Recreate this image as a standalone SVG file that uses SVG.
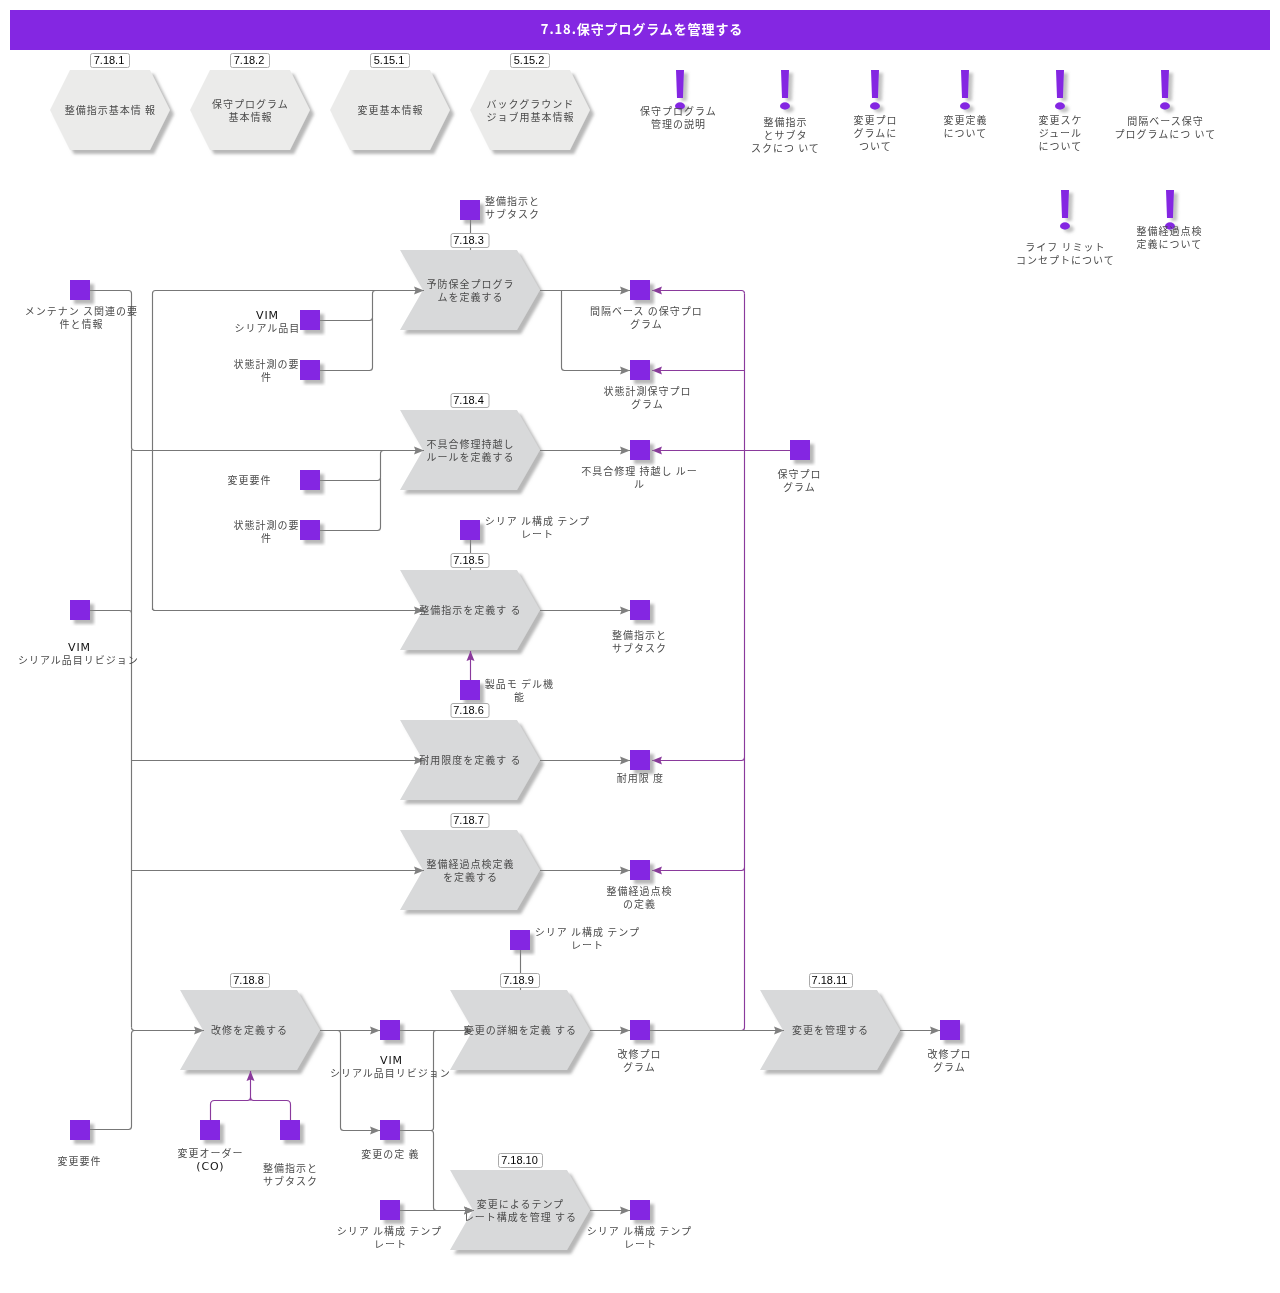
<svg xmlns="http://www.w3.org/2000/svg" width="1280" height="1293" viewBox="0 0 1280 1293">
<style>
text{font-family:"Noto Sans CJK JP","Liberation Sans",sans-serif;font-size:10px;letter-spacing:1px;fill:#4a4a4a;text-anchor:middle;opacity:.999}
.lat{font-family:"DejaVu Sans",sans-serif;font-size:11px;letter-spacing:.8px;fill:#111}
.id{font-family:"Liberation Sans",sans-serif;font-size:11px;letter-spacing:0;fill:#000}
.title{font-size:13px;font-weight:700;fill:#fff;letter-spacing:.9px}
.box{fill:#8427e2;filter:url(#sh)}
.hex{fill:#ebebea;filter:url(#sh)}
.chev{fill:#d8d9da;filter:url(#sh)}
.tag{fill:#fff;stroke:#aaa;stroke-width:1}
.g,.p{fill:none;stroke-width:1.15}
.g{stroke:#777}
.p{stroke:#8a3a9c}
.ga{marker-end:url(#ag)}
.pa{marker-end:url(#ap)}
.ex{fill:#8427e2;filter:url(#shx)}
</style>
<defs>
<filter id="sh" x="-20%" y="-20%" width="150%" height="150%"><feDropShadow dx="4" dy="4" stdDeviation="1.5" flood-color="#888" flood-opacity=".6"/></filter>
<filter id="shx" x="-100%" y="-20%" width="300%" height="150%"><feDropShadow dx="4" dy="3" stdDeviation="1.5" flood-color="#888" flood-opacity=".5"/></filter>
<marker id="ag" markerUnits="userSpaceOnUse" markerWidth="11" markerHeight="9" refX="10" refY="4.500" orient="auto"><path d="M0 .5L10 4.500L0 8.500L1.500 4.500Z" fill="#808080"/></marker>
<marker id="ap" markerUnits="userSpaceOnUse" markerWidth="11" markerHeight="9" refX="10" refY="4.500" orient="auto"><path d="M0 .5L10 4.500L0 8.500L1.500 4.500Z" fill="#8a3a9c"/></marker>
<path id="excl" d="M-4 0H4L3 28H-3Z M5 36A5 3.700 0 1 1-5 36A5 3.700 0 1 1 5 36Z"/>
</defs>
<rect id="title-bar" x="10" y="10" width="1260" height="40" fill="#8427e2"/>
<text class="title" x="642" y="34">7.18.保守プログラムを管理する</text>

<g id="shapes">
<g id="n-7-18-1"><path class="hex" d="M50 110L70 70H150L170 110L150 150H70Z"/><rect class="tag" x="90.500" y="53.500" width="39" height="14" rx="2"/><text class="id" x="109" y="64">7.18.1</text><text x="110.400" y="114">整備指示基本情 報</text></g>
<g id="n-7-18-2"><path class="hex" d="M190 110L210 70H290L310 110L290 150H210Z"/><rect class="tag" x="230.500" y="53.500" width="39" height="14" rx="2"/><text class="id" x="249" y="64">7.18.2</text><text x="250.400" y="108">保守プログラム</text><text x="250.400" y="121">基本情報</text></g>
<g id="n-5-15-1"><path class="hex" d="M330 110L350 70H430L450 110L430 150H350Z"/><rect class="tag" x="370.500" y="53.500" width="39" height="14" rx="2"/><text class="id" x="389" y="64">5.15.1</text><text x="390.400" y="114">変更基本情報</text></g>
<g id="n-5-15-2"><path class="hex" d="M470 110L490 70H570L590 110L570 150H490Z"/><rect class="tag" x="510.500" y="53.500" width="39" height="14" rx="2"/><text class="id" x="529" y="64">5.15.2</text><text x="530.400" y="108">バックグラウンド</text><text x="530.400" y="121">ジョブ用基本情報</text></g>

<g id="n-7-18-3"><path class="chev" d="M400 250H517L540 290L517 330H400L423 290Z"/></g>
<g id="n-7-18-4"><path class="chev" d="M400 410H517L540 450L517 490H400L423 450Z"/></g>
<g id="n-7-18-5"><path class="chev" d="M400 570H517L540 610L517 650H400L423 610Z"/></g>
<g id="n-7-18-6"><path class="chev" d="M400 720H517L540 760L517 800H400L423 760Z"/></g>
<g id="n-7-18-7"><path class="chev" d="M400 830H517L540 870L517 910H400L423 870Z"/></g>
<g id="n-7-18-8"><path class="chev" d="M180 990H297L320 1030L297 1070H180L203 1030Z"/></g>
<g id="n-7-18-9"><path class="chev" d="M450 990H567L590 1030L567 1070H450L473 1030Z"/></g>
<g id="n-7-18-10"><path class="chev" d="M450 1170H567L590 1210L567 1250H450L473 1210Z"/></g>
<g id="n-7-18-11"><path class="chev" d="M760 990H877L900 1030L877 1070H760L783 1030Z"/></g>
</g>

<g id="connectors">
<path class="g ga" d="M90 290.500H128.500Q131.500 290.500 131.500 293.500V447.500Q131.500 450.500 134.500 450.500H424"/>
<path class="g" d="M90 610.500H129Q131.500 610.500 131.500 613"/>
<path class="g" d="M131.500 450V1027.500"/>
<path class="g ga" d="M131.500 760.500H424"/>
<path class="g ga" d="M131.500 870.500H424"/>
<path class="g ga" d="M131.500 1027.500Q131.500 1030.500 134.500 1030.500H204"/>
<path class="g" d="M90 1129.500H128.500Q131.500 1129.500 131.500 1126.500V1033.500Q131.500 1030.500 134.500 1030.500"/>
<path class="g ga" d="M152.500 610V293.500Q152.500 290.500 155.500 290.500H424"/>
<path class="g ga" d="M152.500 608Q152.500 610.500 155 610.500H424"/>
<path class="g" d="M320 320.500H369.500Q372.500 320.500 372.500 317.500V293.500Q372.500 290.500 375.500 290.500"/>
<path class="g" d="M320 370.500H369.500Q372.500 370.500 372.500 367.500V318"/>
<path class="g" d="M320 480.500H377.500Q380.500 480.500 380.500 477.500V453.500Q380.500 450.500 383.500 450.500"/>
<path class="g" d="M320 530.500H377.500Q380.500 530.500 380.500 527.500V478"/>
<path class="g ga" d="M540 290.500H630"/>
<path class="g ga" d="M561.500 290.500V367.500Q561.500 370.500 564.500 370.500H630"/>
<path class="g ga" d="M540 450.500H630"/>
<path class="g ga" d="M540 610.500H630"/>
<path class="g ga" d="M540 760.500H630"/>
<path class="g ga" d="M540 870.500H630"/>
<path class="g" d="M470.500 220V250"/>
<path class="g" d="M470.500 540V570"/>
<path class="g" d="M520.500 950V990"/>
<path class="g ga" d="M320 1030.500H380"/>
<path class="g ga" d="M337.500 1030.500Q340.500 1030.500 340.500 1033.500V1127.500Q340.500 1130.500 343.500 1130.500H380"/>
<path class="g ga" d="M400 1030.500H474"/>
<path class="g" d="M436 1030.500Q433.500 1030.500 433.500 1033V1128Q433.500 1130.500 431 1130.500"/>
<path class="g ga" d="M400 1130.500H430.500Q433.500 1130.500 433.500 1133.500V1207.500Q433.500 1210.500 436.500 1210.500H474"/>
<path class="g ga" d="M400 1210.500H474"/>
<path class="g ga" d="M590 1030.500H630"/>
<path class="g ga" d="M590 1210.500H630"/>
<path class="g ga" d="M900 1030.500H940"/>
<path class="p" d="M744.500 293.500V1027.500Q744.500 1030.500 741.500 1030.500"/>
<path class="p pa" d="M744.500 293.500Q744.500 290.500 741.500 290.500H652"/>
<path class="p pa" d="M744.500 370.500H652"/>
<path class="p pa" d="M790 450.500H652"/>
<path class="p pa" d="M744.500 757.500Q744.500 760.500 741.500 760.500H652"/>
<path class="p pa" d="M744.500 867.500Q744.500 870.500 741.500 870.500H652"/>
<path class="g ga" d="M650 1030.500H784"/>
<path class="p pa" d="M470.500 680V651"/>
<path class="p pa" d="M250.500 1100.500V1071"/>
<path class="p" d="M210.500 1120V1104.500Q210.500 1100.500 214.500 1100.500H247.500Q250.500 1100.500 250.500 1097.500Q250.500 1100.500 253.500 1100.500H286.500Q290.500 1100.500 290.500 1104.500V1120"/>
</g>

<g id="squares">
<rect class="box" id="d1" x="70" y="280" width="20" height="20"/>
<rect class="box" id="d2" x="70" y="600" width="20" height="20"/>
<rect class="box" id="d3" x="70" y="1120" width="20" height="20"/>
<rect class="box" id="d4" x="300" y="310" width="20" height="20"/>
<rect class="box" id="d5" x="300" y="360" width="20" height="20"/>
<rect class="box" id="d6" x="300" y="470" width="20" height="20"/>
<rect class="box" id="d7" x="300" y="520" width="20" height="20"/>
<rect class="box" id="d8" x="460" y="200" width="20" height="20"/>
<rect class="box" id="d9" x="460" y="520" width="20" height="20"/>
<rect class="box" id="d10" x="460" y="680" width="20" height="20"/>
<rect class="box" id="d11" x="510" y="930" width="20" height="20"/>
<rect class="box" id="d12" x="630" y="280" width="20" height="20"/>
<rect class="box" id="d13" x="630" y="360" width="20" height="20"/>
<rect class="box" id="d14" x="630" y="440" width="20" height="20"/>
<rect class="box" id="d15" x="630" y="600" width="20" height="20"/>
<rect class="box" id="d16" x="630" y="750" width="20" height="20"/>
<rect class="box" id="d17" x="630" y="860" width="20" height="20"/>
<rect class="box" id="d18" x="790" y="440" width="20" height="20"/>
<rect class="box" id="d19" x="380" y="1020" width="20" height="20"/>
<rect class="box" id="d20" x="380" y="1120" width="20" height="20"/>
<rect class="box" id="d21" x="380" y="1200" width="20" height="20"/>
<rect class="box" id="d22" x="630" y="1020" width="20" height="20"/>
<rect class="box" id="d23" x="630" y="1200" width="20" height="20"/>
<rect class="box" id="d24" x="940" y="1020" width="20" height="20"/>
<rect class="box" id="d25" x="200" y="1120" width="20" height="20"/>
<rect class="box" id="d26" x="280" y="1120" width="20" height="20"/>
</g>

<g id="info-marks">
<use class="ex" href="#excl" x="680" y="70"/>
<use class="ex" href="#excl" x="785" y="70"/>
<use class="ex" href="#excl" x="875" y="70"/>
<use class="ex" href="#excl" x="965" y="70"/>
<use class="ex" href="#excl" x="1060" y="70"/>
<use class="ex" href="#excl" x="1165" y="70"/>
<use class="ex" href="#excl" x="1065" y="190"/>
<use class="ex" href="#excl" x="1170" y="190"/>
</g>

<g id="tags">
<rect class="tag" x="451" y="233.500" width="38" height="14" rx="2"/><text class="id" x="468.500" y="244">7.18.3</text>
<rect class="tag" x="451" y="393.500" width="38" height="14" rx="2"/><text class="id" x="468.500" y="404">7.18.4</text>
<rect class="tag" x="451" y="553.500" width="38" height="14" rx="2"/><text class="id" x="468.500" y="564">7.18.5</text>
<rect class="tag" x="451" y="703.500" width="38" height="14" rx="2"/><text class="id" x="468.500" y="714">7.18.6</text>
<rect class="tag" x="451" y="813.500" width="38" height="14" rx="2"/><text class="id" x="468.500" y="824">7.18.7</text>
<rect class="tag" x="230.500" y="973.500" width="39" height="14" rx="2"/><text class="id" x="248.500" y="984">7.18.8</text>
<rect class="tag" x="500.500" y="973.500" width="39" height="14" rx="2"/><text class="id" x="518.500" y="984">7.18.9</text>
<rect class="tag" x="498.500" y="1153.500" width="44" height="14" rx="2"/><text class="id" x="519.500" y="1164">7.18.10</text>
<rect class="tag" x="809.500" y="973.500" width="43" height="14" rx="2"/><text class="id" x="829.500" y="984">7.18.11</text>
</g>

<g id="labels" transform="translate(.4 0)">
<text x="678" y="115">保守プログラム</text><text x="678" y="128">管理の説明</text>
<text x="785" y="126">整備指示</text><text x="785" y="139">とサブタ</text><text x="785" y="152">スクにつ いて</text>
<text x="875" y="124">変更プロ</text><text x="875" y="137">グラムに</text><text x="875" y="150">ついて</text>
<text x="965" y="124">変更定義</text><text x="965" y="137">について</text>
<text x="1060" y="124">変更スケ</text><text x="1060" y="137">ジュール</text><text x="1060" y="150">について</text>
<text x="1165" y="125">間隔ベース保守</text><text x="1165" y="138">プログラムにつ いて</text>
<text x="1065" y="251">ライフ リミット</text><text x="1065" y="264">コンセプトについて</text>
<text x="1169" y="235">整備経過点検</text><text x="1169" y="248">定義について</text>
<text x="512" y="205">整備指示と</text><text x="512" y="218">サブタスク</text>
<text x="470" y="288">予防保全プログラ</text><text x="470" y="301">ムを定義する</text>
<text x="81" y="315">メンテナン ス関連の要</text><text x="81" y="328">件と情報</text>
<text class="lat" x="267" y="319">VIM</text><text x="267" y="332">シリアル品目</text>
<text x="266" y="368">状態計測の要</text><text x="266" y="381">件</text>
<text x="646" y="315">間隔ベース の保守プロ</text><text x="646" y="328">グラム</text>
<text x="647" y="395">状態計測保守プロ</text><text x="647" y="408">グラム</text>
<text x="470" y="448">不具合修理持越し</text><text x="470" y="461">ルールを定義する</text>
<text x="639" y="475">不具合修理 持越し ルー</text><text x="639" y="488">ル</text>
<text x="799" y="478">保守プロ</text><text x="799" y="491">グラム</text>
<text x="249" y="484">変更要件</text>
<text x="266" y="529">状態計測の要</text><text x="266" y="542">件</text>
<text x="537" y="525">シリア ル構成 テンプ</text><text x="537" y="538">レート</text>
<text x="470" y="614">整備指示を定義す る</text>
<text x="639" y="639">整備指示と</text><text x="639" y="652">サブタスク</text>
<text class="lat" x="79" y="651">VIM</text><text x="78" y="664">シリアル品目リビジョン</text>
<text x="519" y="688">製品モ デル機</text><text x="519" y="701">能</text>
<text x="470" y="764">耐用限度を定義す る</text>
<text x="640" y="782">耐用限 度</text>
<text x="470" y="868">整備経過点検定義</text><text x="470" y="881">を定義する</text>
<text x="639" y="895">整備経過点検</text><text x="639" y="908">の定義</text>
<text x="587" y="936">シリア ル構成 テンプ</text><text x="587" y="949">レート</text>
<text x="249" y="1034">改修を定義する</text>
<text class="lat" x="391" y="1064">VIM</text><text x="390" y="1077">シリアル品目リビジョン</text>
<text x="520" y="1034">変更の詳細を定義 する</text>
<text x="639" y="1058">改修プロ</text><text x="639" y="1071">グラム</text>
<text x="830" y="1034">変更を管理する</text>
<text x="949" y="1058">改修プロ</text><text x="949" y="1071">グラム</text>
<text x="79" y="1165">変更要件</text>
<text x="210" y="1157">変更オーダー</text><text class="lat" x="210" y="1170">(CO)</text>
<text x="290" y="1172">整備指示と</text><text x="290" y="1185">サブタスク</text>
<text x="390" y="1158">変更の定 義</text>
<text x="520" y="1208">変更によるテンプ</text><text x="520" y="1221">レート構成を管理 する</text>
<text x="389" y="1235">シリア ル構成 テンプ</text><text x="390" y="1248">レート</text>
<text x="639" y="1235">シリア ル構成 テンプ</text><text x="640" y="1248">レート</text>
</g>
</svg>
